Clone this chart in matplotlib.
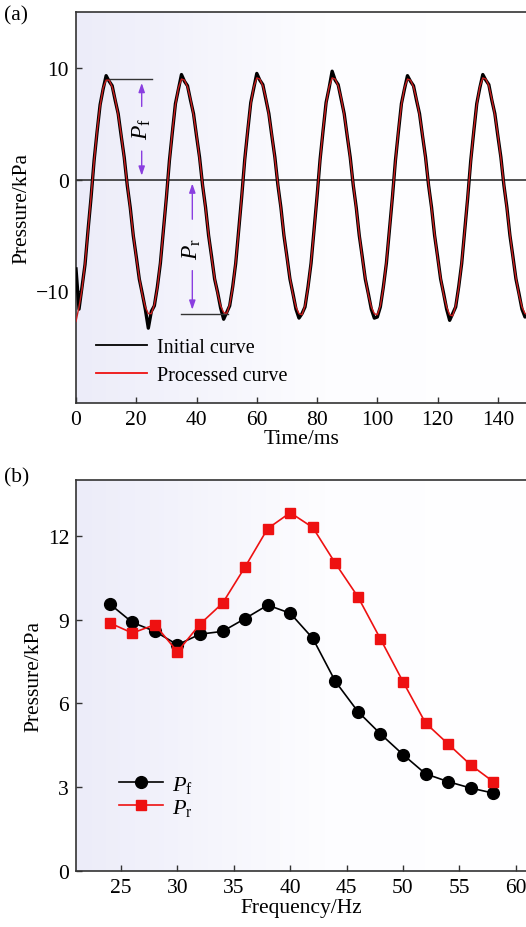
import numpy as np
import matplotlib
matplotlib.use("Agg")
import matplotlib.pyplot as plt
from matplotlib.colors import LinearSegmentedColormap

plt.rcParams['font.family'] = ['Liberation Serif', 'DejaVu Serif']
plt.rcParams['mathtext.fontset'] = 'custom'
plt.rcParams['mathtext.rm'] = 'Liberation Serif'
plt.rcParams['mathtext.it'] = 'Liberation Serif:italic'
plt.rcParams['font.size'] = 15.5

# ---- panel (a): pressure waveform, sampled every 1 ms ----
time_ms = np.arange(0, 151)
processed = [
    -12.7, -11.4, -9.8, -7.5, -4.6, -1.5, 1.6, 4.4, 6.6, 8.2, 8.9, 8.9, 8.3, 7.2, 5.8, 4.0, 1.9, -0.4, -2.6, -4.9, -7.0, -8.8, -10.3, -11.4, -12.0,
    -12.0, -11.2, -9.7, -7.4, -4.6, -1.5, 1.6, 4.4, 6.7, 8.2, 9.0, 8.9, 8.3, 7.2, 5.8, 4.0, 1.9, -0.4, -2.6, -4.9, -7.0, -8.8, -10.2, -11.3, -11.9,
    -12.0, -11.2, -9.7, -7.4, -4.6, -1.4, 1.7, 4.5, 6.8, 8.3, 9.1, 9.0, 8.4, 7.3, 5.8, 4.0, 1.9, -0.4, -2.6, -4.9, -7.0, -8.8, -10.3, -11.4, -12.0,
    -12.1, -11.3, -9.7, -7.4, -4.6, -1.4, 1.7, 4.5, 6.8, 8.3, 9.1, 9.0, 8.4, 7.3, 5.8, 4.0, 1.9, -0.4, -2.6, -4.9, -7.0, -8.8, -10.3, -11.4, -12.0,
    -12.1, -11.3, -9.7, -7.4, -4.6, -1.5, 1.6, 4.4, 6.7, 8.2, 9.0, 8.9, 8.3, 7.2, 5.8, 4.0, 1.9, -0.4, -2.6, -4.9, -7.0, -8.8, -10.3, -11.4, -12.1,
    -12.2, -11.3, -9.7, -7.4, -4.6, -1.5, 1.6, 4.4, 6.7, 8.3, 9.1, 9.0, 8.4, 7.2, 5.8, 4.0, 1.9, -0.4, -2.6, -4.9, -7.0, -8.8, -10.3, -11.4, -12.0,
    -12.0,
]
initial = [
    -8.0, -11.6, -9.6, -7.6, -4.5, -1.6, 1.7, 4.3, 6.7, 8.1, 9.3, 8.8, 8.4, 7.1, 5.9, 3.9, 2.0, -0.5, -2.5, -5.0, -6.9, -8.9, -10.2, -11.6, -13.3,
    -11.8, -11.3, -9.6, -7.5, -4.5, -1.6, 1.7, 4.3, 6.8, 8.1, 9.4, 8.8, 8.4, 7.1, 5.9, 3.9, 2.0, -0.5, -2.5, -5.0, -6.9, -8.9, -10.1, -11.5, -12.5,
    -11.9, -11.3, -9.6, -7.5, -4.5, -1.5, 1.8, 4.4, 6.9, 8.2, 9.5, 8.9, 8.5, 7.2, 5.9, 3.9, 2.0, -0.5, -2.5, -5.0, -6.9, -8.9, -10.2, -11.6, -12.4,
    -12.0, -11.4, -9.6, -7.5, -4.5, -1.5, 1.8, 4.4, 6.9, 8.2, 9.7, 8.9, 8.5, 7.2, 5.9, 3.9, 2.0, -0.5, -2.5, -5.0, -6.9, -8.9, -10.2, -11.6, -12.4,
    -12.3, -11.4, -9.6, -7.5, -4.5, -1.6, 1.7, 4.3, 6.8, 8.1, 9.3, 8.8, 8.4, 7.1, 5.9, 3.9, 2.0, -0.5, -2.5, -5.0, -6.9, -8.9, -10.2, -11.6, -12.6,
    -12.0, -11.4, -9.6, -7.5, -4.5, -1.6, 1.7, 4.3, 6.8, 8.2, 9.4, 8.9, 8.5, 7.1, 5.9, 3.9, 2.0, -0.5, -2.5, -5.0, -6.9, -8.9, -10.2, -11.6, -12.3,
    -12.2,
]

# ---- panel (b): amplitudes vs frequency ----
freq_hz = [24, 26, 28, 30, 32, 34, 36, 38, 40, 42, 44, 46, 48, 50, 52, 54, 56, 58]
p_f = [9.56, 8.90, 8.58, 8.10, 8.48, 8.58, 9.04, 9.52, 9.23, 8.33, 6.79, 5.71, 4.91, 4.17, 3.48, 3.20, 2.97, 2.79]
p_r = [8.88, 8.52, 8.82, 7.85, 8.84, 9.59, 10.89, 12.26, 12.83, 12.30, 11.02, 9.82, 8.31, 6.78, 5.30, 4.55, 3.80, 3.20]

spine_col = '#333333'
purple = '#8a3ee0'
bg_cmap = LinearSegmentedColormap.from_list('bg', [(0.0, '#ececf9'), (0.55, '#fdfdff'), (1.0, '#ffffff')])


def style_axes(ax):
    grad = np.linspace(0, 1, 256).reshape(1, -1)
    ax.imshow(grad, cmap=bg_cmap, aspect='auto', extent=[0, 1, 0, 1],
              transform=ax.transAxes, zorder=0)
    for side in ['left', 'bottom', 'top']:
        ax.spines[side].set_color(spine_col)
        ax.spines[side].set_linewidth(1.2)
    ax.spines['right'].set_visible(False)
    ax.tick_params(direction='in', length=4, width=1.0, color=spine_col,
                   top=False, right=False, labelsize=15.5, pad=5)


fig = plt.figure(figsize=(5.26, 9.28), dpi=100)

# (a)
ax1 = fig.add_axes([76 / 526, 1 - 404 / 928, 452 / 526, 391 / 928])
style_axes(ax1)
ax1.axhline(0, color=spine_col, lw=1.2, zorder=2)
ax1.plot(time_ms, initial, color='black', lw=2.4, zorder=3, label='Initial curve')
ax1.plot(time_ms, processed, color='#c81e1e', lw=1.0, zorder=4, label='Processed curve')
ax1.set_xlim(0, 150)
ax1.set_ylim(-20, 15)
ax1.set_xticks([0, 20, 40, 60, 80, 100, 120, 140])
ax1.set_yticks([-10, 0, 10])
ax1.set_yticklabels(['\u221210', '0', '10'])
ax1.set_xlabel('Time/ms', labelpad=0)
ax1.set_ylabel('Pressure/kPa', labelpad=3)
leg1 = ax1.legend(loc='lower left', bbox_to_anchor=(0.005, 0.0), frameon=False,
                  handlelength=2.5, handletextpad=0.5, labelspacing=0.45, fontsize=14.5)
for h, c in zip(leg1.get_lines(), ['black', '#ee1111']):
    h.set_linewidth(1.3)
    h.set_color(c)

# amplitude markers
ax1.plot([11.3, 25.2], [9.0, 9.0], color=spine_col, lw=1.0, zorder=5)
ax1.plot([35.0, 50.5], [-12.0, -12.0], color=spine_col, lw=1.0, zorder=5)
arrow_kw = dict(arrowstyle='-|>,head_length=0.35,head_width=0.12', color=purple, lw=1.0)
ax1.annotate('', xy=(21.8, 8.9), xytext=(21.8, 6.3), arrowprops=arrow_kw, zorder=6)
ax1.annotate('', xy=(21.8, 0.1), xytext=(21.8, 2.8), arrowprops=arrow_kw, zorder=6)
ax1.text(21.8, 4.6, r'$P_{\mathrm{f}}$', rotation=90, ha='center', va='center', fontsize=17)
ax1.annotate('', xy=(38.6, -0.1), xytext=(38.6, -3.8), arrowprops=arrow_kw, zorder=6)
ax1.annotate('', xy=(38.6, -11.9), xytext=(38.6, -7.9), arrowprops=arrow_kw, zorder=6)
ax1.text(38.6, -6.1, r'$P_{\mathrm{r}}$', rotation=90, ha='center', va='center', fontsize=17)
fig.text(4 / 526, 1 - 16 / 928, '(a)', fontsize=15.5, ha='left', va='center')

# (b)
ax2 = fig.add_axes([76 / 526, 1 - 872 / 928, 451 / 526, 391 / 928])
style_axes(ax2)
ax2.plot(freq_hz, p_f, color='black', lw=1.2, marker='o', ms=8.5,
         mfc='black', mec='black', zorder=3, label=r'$P_{\mathrm{f}}$')
ax2.plot(freq_hz, p_r, color='#ee1111', lw=1.2, marker='s', ms=7.5,
         mfc='#ee1111', mec='#ee1111', zorder=4, label=r'$P_{\mathrm{r}}$')
ax2.set_xlim(21, 61)
ax2.set_ylim(0, 14)
ax2.set_xticks([25, 30, 35, 40, 45, 50, 55, 60])
ax2.set_yticks([0, 3, 6, 9, 12])
ax2.set_xlabel('Frequency/Hz', labelpad=1)
ax2.set_ylabel('Pressure/kPa', labelpad=3)
ax2.legend(loc='lower left', bbox_to_anchor=(0.05, 0.085), frameon=False,
           handlelength=2.0, handletextpad=0.4, labelspacing=0.1, fontsize=16)
fig.text(4 / 526, 1 - 478 / 928, '(b)', fontsize=15.5, ha='left', va='center')

fig.savefig('out.png', dpi=100)
